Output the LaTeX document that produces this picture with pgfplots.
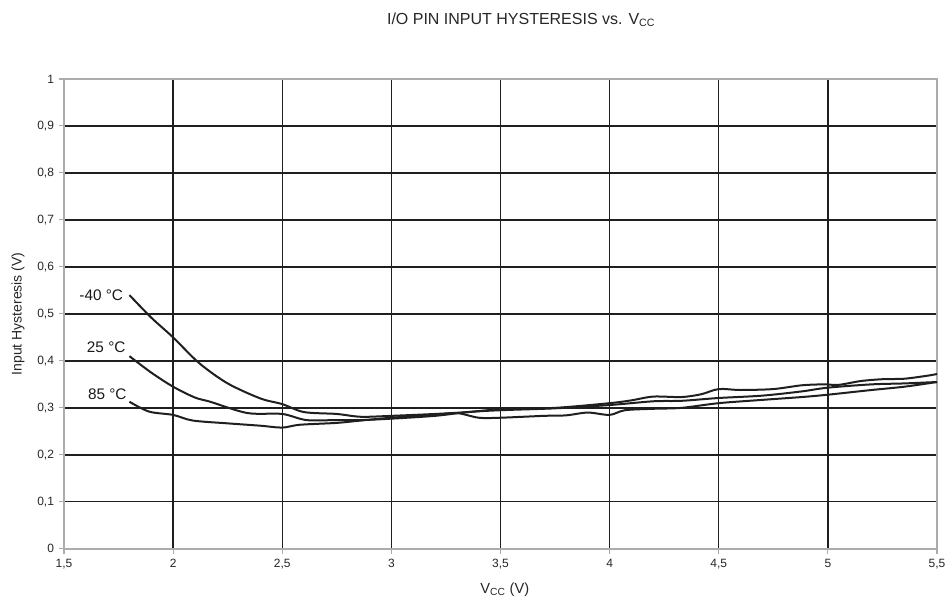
\documentclass[border=0pt]{standalone}
\usepackage{fontspec}
\setmainfont{Liberation Sans}
\usepackage{pgfplots}
\pgfplotsset{compat=1.18}
\begin{document}
\begin{tikzpicture}[x=1pt,y=1pt]
\path[use as bounding box] (-48,-46.5) rectangle (664.75,411.75);
\begin{axis}[
  at={(0,0)}, anchor=south west,
  scale only axis,
  width=655pt, height=352.5pt,
  xmin=1.5, xmax=5.5, ymin=0, ymax=1,
  xtick={1.5,2,2.5,3,3.5,4,4.5,5,5.5},
  ytick={0,0.1,0.2,0.3,0.4,0.5,0.6,0.7,0.8,0.9,1},
  /pgf/number format/use comma,
  /pgf/number format/assume math mode=true,
  tick label style={font=\fontsize{9}{10}\selectfont, text=black!85},
  grid=major,
  major grid style={black!88, line width=1pt},
  axis line style={gray!65, line width=1.3pt},
  tick style={gray!65, line width=0.8pt},
  tick align=outside,
  major tick length=4pt,
  xtick pos=bottom, ytick pos=left,
  clip=false,
]
\addplot[black!88, line width=1.5pt, smooth, tension=0.5] coordinates {
(1.8,0.540)(1.9,0.492)(2.0,0.450)(2.12,0.395)(2.25,0.352)(2.4,0.320)(2.5,0.308)
(2.6,0.291)(2.75,0.287)(2.86,0.281)(3.0,0.283)(3.2,0.287)(3.35,0.291)(3.5,0.297)
(3.75,0.300)(4.0,0.310)(4.1,0.316)(4.2,0.324)(4.33,0.323)(4.42,0.329)(4.5,0.340)
(4.6,0.338)(4.75,0.340)(4.88,0.348)(4.98,0.350)(5.05,0.349)(5.15,0.357)(5.25,0.361)
(5.35,0.362)(5.45,0.368)(5.5,0.372)};
\addplot[black!88, line width=1.5pt, smooth, tension=0.5] coordinates {
(1.8,0.410)(1.9,0.375)(2.0,0.345)(2.1,0.322)(2.17,0.313)(2.34,0.289)(2.5,0.287)
(2.61,0.274)(2.75,0.274)(2.86,0.274)(3.0,0.277)(3.2,0.283)(3.35,0.291)(3.5,0.295)
(3.75,0.299)(4.0,0.306)(4.2,0.314)(4.33,0.315)(4.5,0.321)(4.7,0.326)(4.88,0.335)
(5.0,0.343)(5.2,0.350)(5.35,0.352)(5.5,0.355)};
\addplot[black!88, line width=1.5pt, smooth, tension=0.5] coordinates {
(1.8,0.313)(1.89,0.292)(2.0,0.285)(2.09,0.273)(2.25,0.267)(2.4,0.262)(2.5,0.258)
(2.58,0.264)(2.75,0.268)(2.86,0.273)(3.0,0.279)(3.2,0.285)(3.3,0.289)(3.4,0.279)
(3.5,0.279)(3.7,0.283)(3.8,0.284)(3.9,0.290)(4.0,0.285)(4.07,0.295)(4.2,0.298)
(4.33,0.300)(4.5,0.310)(4.7,0.317)(4.88,0.323)(5.0,0.328)(5.2,0.338)(5.35,0.345)
(5.5,0.355)};
\node[anchor=east, font=\fontsize{11.5}{13}\selectfont, text=black!90, inner sep=0pt] at (axis cs:1.772,0.540) {-40 °C};
\node[anchor=east, font=\fontsize{11.5}{13}\selectfont, text=black!90, inner sep=0pt] at (axis cs:1.783,0.430) {25 °C};
\node[anchor=east, font=\fontsize{11.5}{13}\selectfont, text=black!90, inner sep=0pt] at (axis cs:1.788,0.328) {85 °C};
\end{axis}
\node[font=\fontsize{12}{14}\selectfont, text=black!85] at (343,396.75) {I/O PIN INPUT HYSTERESIS vs. V\textsubscript{CC}};
\node[font=\fontsize{10.5}{12}\selectfont, text=black!85, rotate=90] at (-34.5,176.25) {Input Hysteresis (V)};
\node[font=\fontsize{11}{13}\selectfont, text=black!85] at (330.75,-30.75) {V\textsubscript{CC} (V)};
\end{tikzpicture}
\end{document}
